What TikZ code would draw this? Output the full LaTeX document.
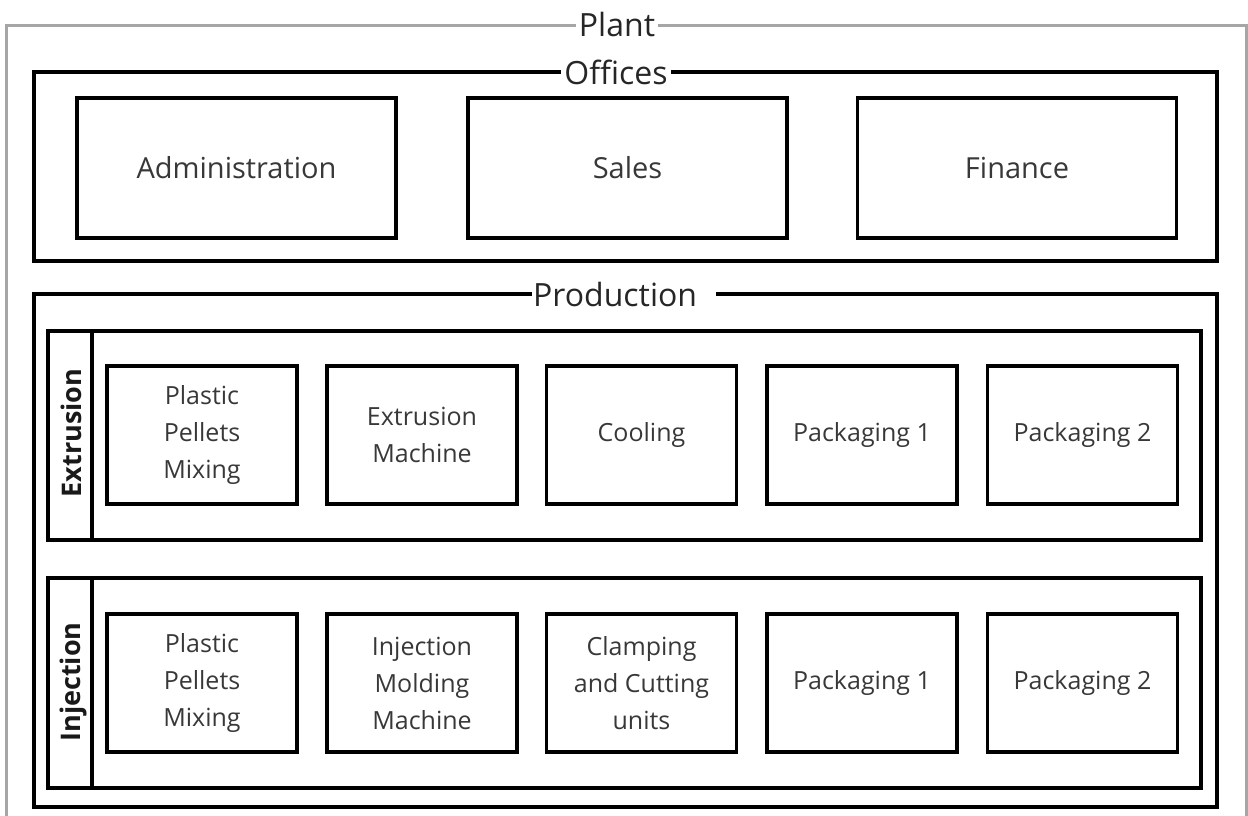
\documentclass[tikz,border=0pt]{standalone}
\usepackage{fontspec}
\setmainfont{Open Sans}
\definecolor{plantgray}{RGB}{166,166,166}
\begin{document}
\begin{tikzpicture}[x=1pt,y=-1pt,
  frame/.style={draw=black,line width=3.2pt},
  offbox/.style={draw=black,line width=3.2pt,minimum width=319pt,minimum height=140pt,inner sep=0pt,font=\fontsize{29}{37}\selectfont,text=black!78},
  unitbox/.style={draw=black,line width=3.2pt,minimum width=190pt,minimum height=138pt,inner sep=0pt,align=center,font=\fontsize{25}{37}\selectfont,text=black!78},
  titlelbl/.style={fill=white,inner sep=3pt,font=\fontsize{32}{38}\selectfont,text=black!85},
  lanelbl/.style={rotate=90,anchor=base,inner sep=0pt,font=\bfseries\fontsize{27}{32}\selectfont,text=black!90}]
\useasboundingbox (0,0) rectangle (1248,816);
\clip (0,0) rectangle (1248,816);
% Plant
\draw[draw=plantgray,line width=3pt] (6,26) rectangle (1246,840);
\node[titlelbl] (plant) at (617,25) {Plant};
% Offices
\draw[frame] (34,72) rectangle (1217,261);
\node[titlelbl] (offices) at (616,72) {Offices};
\node[offbox] (adm) at (236.5,168) {Administration};
\node[offbox] (sal) at (627.5,168) {Sales};
\node[offbox] (fin) at (1017,168) {Finance};
% Production
\draw[frame] (34,294) rectangle (1217,807);
\node[titlelbl,anchor=west,inner xsep=0pt] (production) at (532,294) {\kern1pt Production\kern19pt};
% Extrusion lane
\draw[frame] (48,331) rectangle (1201,540);
\draw[frame] (92,331) -- (92,540);
\node[lanelbl] (extl) at (81,433) {Extrusion};
\node[unitbox] (e1) at (202,435) {Plastic\\Pellets\\Mixing};
\node[unitbox] (e2) at (422,435) {Extrusion\\Machine};
\node[unitbox] (e3) at (641.5,435) {Cooling};
\node[unitbox] (e4) at (862,435) {Packaging 1};
\node[unitbox] (e5) at (1082.5,435) {Packaging 2};
% Injection lane
\draw[frame] (48,578) rectangle (1201,788);
\draw[frame] (92,578) -- (92,788);
\node[lanelbl] (injl) at (80,682) {Injection};
\node[unitbox] (i1) at (202,683) {Plastic\\Pellets\\Mixing};
\node[unitbox] (i2) at (422,683) {Injection\\Molding\\Machine};
\node[unitbox] (i3) at (641.5,683) {Clamping\\and Cutting\\units};
\node[unitbox] (i4) at (862,683) {Packaging 1};
\node[unitbox] (i5) at (1082.5,683) {Packaging 2};
\end{tikzpicture}
\end{document}
